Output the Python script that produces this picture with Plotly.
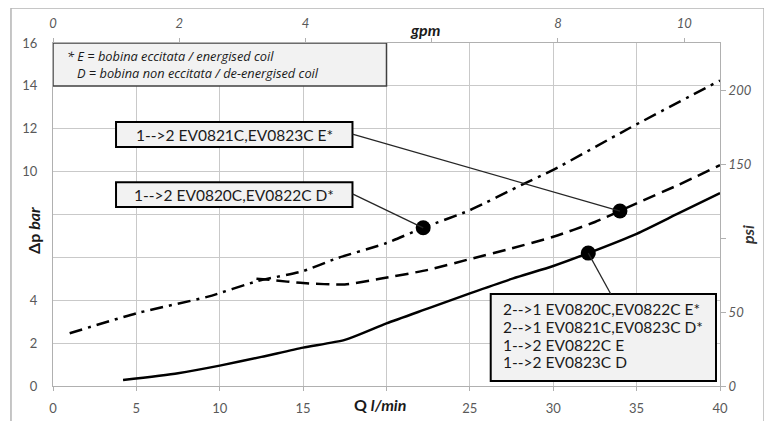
import plotly.graph_objects as go

# ---- data (Q in l/min, dp in bar) ----
q_solid = [4.2, 7.5, 10, 12.5, 15, 17.5, 20, 22.5, 25, 27.6, 30, 32.1, 35, 37.5, 40]
dp_solid = [0.28, 0.6, 0.95, 1.36, 1.79, 2.15, 2.92, 3.62, 4.32, 5.02, 5.6, 6.2, 7.1, 8.05, 9.0]

q_dash = [12.2, 13.0, 15, 17.5, 19.6, 22.5, 25, 27.5, 30, 32.5, 35, 37.5, 40]
dp_dash = [5.0, 4.95, 4.8, 4.74, 5.0, 5.42, 5.92, 6.42, 6.96, 7.65, 8.52, 9.38, 10.3]

q_dashdot = [1.0, 5, 9.3, 12.3, 15, 17, 20, 22.2, 25, 28.2, 30, 34.5, 40]
dp_dashdot = [2.46, 3.39, 4.17, 4.9, 5.36, 5.95, 6.67, 7.38, 8.2, 9.42, 10.08, 12.0, 14.25]

marker_q = [22.2, 34.0, 32.1]
marker_dp = [7.38, 8.16, 6.2]

x_ticks = [0, 5, 10, 15, 20, 25, 30, 35, 40]
x_ticktext = ["0", "5", "10", "15", "", "25", "30", "35", "40"]
y_ticks = [0, 2, 4, 6, 8, 10, 12, 14, 16]
y_ticktext = ["0", "2", "4", "", "", "10", "12", "14", "16"]
gpm_ticks = [0, 2, 4, 6, 8, 10]
gpm_ticktext = ["0", "2", "4", "", "8", "10"]
psi_ticks = [0, 50, 100, 150, 200]
psi_ticktext = ["0", "50", "", "150", "200"]

note_lines = ["* E = bobina eccitata / energised coil",
              "\u00a0\u00a0\u00a0D = bobina non eccitata / de-energised coil"]
label_1 = "1-->2 EV0821C,EV0823C E*"
label_2 = "1-->2 EV0820C,EV0822C D*"
label_4 = ["2-->1 EV0820C,EV0822C E*",
           "2-->1 EV0821C,EV0823C D*",
           "1-->2 EV0822C E",
           "1-->2 EV0823C D"]

BAR_TO_PSI = 14.5038
GPM_TO_LPM = 3.78541
X_MAX, Y_MAX = 40, 16

FONT = "Lato"
TICK_COL = "#595959"
GRID_COL = "#c9c9c9"
PLOT_W, PLOT_H = 667, 343

fig = go.Figure()

fig.add_trace(go.Scatter(x=q_dashdot, y=dp_dashdot, mode="lines",
                         line=dict(color="black", width=2.5, dash="13px,6px,3px,6px",
                                   shape="spline", smoothing=0.6),
                         hoverinfo="skip", showlegend=False))
fig.add_trace(go.Scatter(x=q_dash, y=dp_dash, mode="lines",
                         line=dict(color="black", width=2.5, dash="13px,7px",
                                   shape="spline", smoothing=0.6),
                         hoverinfo="skip", showlegend=False))
fig.add_trace(go.Scatter(x=q_solid, y=dp_solid, mode="lines",
                         line=dict(color="black", width=2.5, shape="spline", smoothing=0.6),
                         hoverinfo="skip", showlegend=False))
fig.add_trace(go.Scatter(x=marker_q, y=marker_dp, mode="markers",
                         marker=dict(color="black", size=15),
                         hoverinfo="skip", showlegend=False))
# anchor traces for secondary axes
fig.add_trace(go.Scatter(x=[0], y=[0], xaxis="x2", yaxis="y", mode="markers",
                         marker=dict(opacity=0), hoverinfo="skip", showlegend=False))
fig.add_trace(go.Scatter(x=[0], y=[0], xaxis="x", yaxis="y2", mode="markers",
                         marker=dict(opacity=0), hoverinfo="skip", showlegend=False))

tickfont = dict(family=FONT, size=13, color=TICK_COL)
tickfont_it = dict(family=FONT, size=13, color=TICK_COL, style="italic")

fig.update_layout(
    width=764, height=413,
    margin=dict(l=45, r=52, t=35, b=35, autoexpand=False),
    paper_bgcolor="white", plot_bgcolor="white",
    showlegend=False,
    xaxis=dict(range=[0, X_MAX], tickvals=x_ticks, ticktext=x_ticktext,
               showgrid=True, gridcolor=GRID_COL, gridwidth=1,
               showline=True, linecolor="#b0b0b0", linewidth=1, mirror=True,
               ticks="outside", ticklen=4, tickcolor="#b0b0b0", automargin=False,
               ticklabelstandoff=6, tickfont=tickfont, zeroline=False),
    yaxis=dict(range=[0, Y_MAX], tickvals=y_ticks, ticktext=y_ticktext,
               showgrid=True, gridcolor=GRID_COL, gridwidth=1,
               showline=True, linecolor="#b0b0b0", linewidth=1, mirror=True,
               ticks="", ticklabelstandoff=12, tickfont=tickfont, zeroline=False,
               automargin=False),
    xaxis2=dict(overlaying="x", side="top", anchor="y",
                range=[0, X_MAX / GPM_TO_LPM], tickvals=gpm_ticks, ticktext=gpm_ticktext,
                showgrid=False, showline=False, zeroline=False, automargin=False,
                ticks="outside", ticklen=4, tickcolor="#b0b0b0",
                ticklabelstandoff=5, tickfont=tickfont_it),
    yaxis2=dict(overlaying="y", side="right", anchor="x",
                range=[0, Y_MAX * BAR_TO_PSI], tickvals=psi_ticks, ticktext=psi_ticktext,
                showgrid=False, showline=False, zeroline=False, automargin=False,
                ticks="outside", ticklen=5, tickcolor="#b0b0b0",
                tickfont=tickfont_it),
)

shapes = []
# outer chart border
shapes.append(dict(type="rect", xref="paper", yref="paper",
                   x0=-0.063, x1=1.066, y0=-0.2, y1=1.102,
                   line=dict(color="#b4b4b4", width=1.5), fillcolor="rgba(0,0,0,0)", layer="above"))
# boxes
box_fill = "#f2f2f2"
shapes.append(dict(type="rect", xref="x", yref="y", x0=0, x1=20, y0=14, y1=16,
                   line=dict(color="#404040", width=1.5), fillcolor=box_fill, layer="above"))
shapes.append(dict(type="rect", xref="x", yref="y", x0=3.78, x1=17.96, y0=11.15, y1=12.31,
                   line=dict(color="black", width=2), fillcolor=box_fill, layer="above"))
shapes.append(dict(type="rect", xref="x", yref="y", x0=3.78, x1=17.96, y0=8.35, y1=9.51,
                   line=dict(color="black", width=2), fillcolor=box_fill, layer="above"))
shapes.append(dict(type="rect", xref="x", yref="y", x0=26.25, x1=39.76, y0=0.23, y1=4.29,
                   line=dict(color="black", width=2), fillcolor=box_fill, layer="above"))
# leader lines: box edge -> marker
shapes.append(dict(type="line", xref="x", yref="y", x0=17.96, y0=11.75,
                   x1=marker_q[1], y1=marker_dp[1], line=dict(color="#262626", width=1.3)))
shapes.append(dict(type="line", xref="x", yref="y", x0=17.96, y0=8.96,
                   x1=marker_q[0], y1=marker_dp[0], line=dict(color="#262626", width=1.3)))
shapes.append(dict(type="line", xref="x", yref="y", x0=33.45, y0=4.29,
                   x1=marker_q[2], y1=marker_dp[2], line=dict(color="#262626", width=1.3)))
fig.update_layout(shapes=shapes)

ann = []
txt_col = "#1a1a1a"
ann.append(dict(x=0.72, y=15.38, xref="x", yref="y", text=note_lines[0], showarrow=False,
                xanchor="left", yanchor="middle",
                font=dict(family="Open Sans", size=12.8, color=txt_col, style="italic")))
ann.append(dict(x=0.72, y=14.58, xref="x", yref="y", text=note_lines[1], showarrow=False,
                xanchor="left", yanchor="middle",
                font=dict(family="Open Sans", size=12.8, color=txt_col, style="italic")))
ann.append(dict(x=10.87, y=11.73, xref="x", yref="y", text=label_1, showarrow=False,
                xanchor="center", yanchor="middle",
                font=dict(family=FONT, size=15.5, color=txt_col)))
ann.append(dict(x=10.87, y=8.93, xref="x", yref="y", text=label_2, showarrow=False,
                xanchor="center", yanchor="middle",
                font=dict(family=FONT, size=15.5, color=txt_col)))
for line_txt, yv in zip(label_4, [3.59, 2.75, 1.93, 1.12]):
    ann.append(dict(x=26.89, y=yv, xref="x", yref="y", text=line_txt, showarrow=False,
                    xanchor="left", yanchor="middle",
                    font=dict(family=FONT, size=15.5, color=txt_col)))
# axis titles
ann.append(dict(x=(380 - 53) / PLOT_W, y=0, xref="paper", yref="paper", yshift=-18,
                text="<b>Q <i>l/min</i></b>", showarrow=False, xanchor="center", yanchor="middle",
                font=dict(family=FONT, size=16, color="#1a1a1a")))
ann.append(dict(x=(425 - 53) / PLOT_W, y=1, xref="paper", yref="paper", yshift=14,
                text="<b><i>gpm</i></b>", showarrow=False, xanchor="center", yanchor="middle",
                font=dict(family=FONT, size=16, color="#1a1a1a")))
ann.append(dict(x=0, y=(386 - 231) / PLOT_H, xref="paper", yref="paper", xshift=-20,
                text="<b>Δp <i>bar</i></b>", showarrow=False, textangle=-90,
                xanchor="center", yanchor="middle",
                font=dict(family=FONT, size=16, color="#1a1a1a")))
ann.append(dict(x=1, y=(386 - 235) / PLOT_H, xref="paper", yref="paper", xshift=27,
                text="<b><i>psi</i></b>", showarrow=False, textangle=-90,
                xanchor="center", yanchor="middle",
                font=dict(family=FONT, size=16, color="#333333")))
fig.update_layout(annotations=ann)

fig.write_html("out.html")
